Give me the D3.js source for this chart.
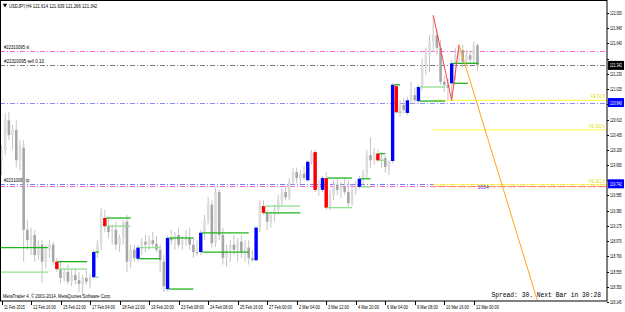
<!DOCTYPE html>
<html>
<head>
<meta charset="utf-8">
<script src="https://cdn.jsdelivr.net/npm/d3@7"></script>
<style>
  body { margin: 0; background: #fff; }
  svg { display: block; font-family: "Liberation Sans", Arial, sans-serif; }
</style>
</head>
<body>
<script>
// USDJPY H4 candles (bar 0 = 11 Feb 2015)
var open = [120.06,120.20,120.60,120.40,120.47,120.06,120.23,119.12,118.98,119.05,
  118.78,118.92,118.69,118.85,118.92,118.69,118.59,118.47,118.55,118.42,
  118.51,118.44,118.39,118.47,118.42,118.48,118.82,118.92,119.28,119.17,
  119.09,119.12,118.92,119.01,119.23,118.69,118.85,118.73,118.88,118.96,
  118.92,118.98,118.93,118.85,118.69,118.32,119.01,118.98,119.05,118.92,
  118.98,119.01,118.92,118.82,118.82,119.08,119.25,119.46,118.94,119.63,
  119.05,118.74,118.85,118.92,118.85,118.96,118.82,118.88,118.74,118.71,
  119.15,119.44,119.35,119.23,119.32,119.39,119.52,119.63,119.56,119.77,
  119.90,119.82,119.88,119.79,120.04,120.17,119.66,119.66,119.82,119.42,
  119.59,119.73,119.66,119.71,119.63,119.48,119.66,119.70,119.81,119.88,
  120.13,120.06,120.15,120.06,120.09,119.97,120.05,121.06,120.71,120.81,
  120.70,120.87,120.94,120.86,121.05,121.35,121.48,121.66,121.75,121.58,
  121.12,121.08,121.10,121.37,121.48,121.55,121.39,121.48,121.42,121.614];
var high = [120.27,120.70,120.71,120.54,120.60,120.33,120.33,119.25,119.15,119.12,
  118.98,118.98,118.92,118.98,118.96,118.74,118.69,118.60,118.65,118.58,
  118.60,118.55,118.51,118.58,118.52,118.85,118.98,119.42,119.39,119.28,
  119.19,119.23,119.05,119.25,119.32,118.92,118.92,118.92,119.01,119.05,
  119.04,119.09,119.04,118.92,118.78,119.04,119.12,119.09,119.15,119.04,
  119.12,119.15,119.01,118.98,119.12,119.32,119.56,119.52,119.69,119.66,
  119.15,118.92,118.98,119.05,119.01,119.05,118.98,118.98,118.85,119.17,
  119.52,119.52,119.39,119.36,119.46,119.59,119.69,119.71,119.82,119.96,
  119.96,119.93,119.98,120.06,120.20,120.20,119.79,119.85,119.90,119.66,
  119.79,119.82,119.77,119.82,119.79,119.73,119.79,119.85,119.93,120.20,
  120.37,120.23,120.20,120.17,120.13,120.06,121.10,121.09,120.87,120.90,
  120.92,121.12,121.04,121.08,121.44,121.58,121.75,122.02,121.82,121.69,
  121.21,121.17,121.42,121.58,121.62,121.62,121.55,121.55,121.66,121.639];
var low = [119.86,120.13,120.33,120.20,119.96,119.93,118.69,118.85,118.78,118.69,
  118.71,118.40,118.60,118.74,118.65,118.55,118.40,118.42,118.38,118.36,
  118.38,118.28,118.23,118.38,118.33,118.46,118.74,118.85,119.09,119.01,
  118.92,118.85,118.82,118.92,118.55,118.60,118.69,118.69,118.78,118.82,
  118.85,118.88,118.82,118.55,118.28,118.29,118.92,118.85,118.88,118.85,
  118.90,118.85,118.74,118.77,118.78,118.98,119.19,118.88,118.89,118.98,
  118.65,118.62,118.69,118.78,118.69,118.74,118.69,118.65,118.69,118.69,
  119.09,119.32,119.12,119.15,119.23,119.32,119.43,119.52,119.52,119.73,
  119.75,119.74,119.79,119.77,120.00,119.63,119.58,119.63,119.39,119.39,
  119.52,119.59,119.55,119.59,119.43,119.44,119.60,119.67,119.71,119.82,
  119.96,120.00,120.04,119.96,119.89,119.86,120.02,120.69,120.65,120.69,
  120.67,120.83,120.82,120.83,121.01,121.21,121.25,121.52,121.48,121.08,
  120.98,120.87,120.87,121.15,121.39,121.31,121.33,121.36,121.37,121.266];
var close = [120.20,120.60,120.40,120.47,120.06,120.27,119.12,118.98,119.05,118.78,
  118.92,118.69,118.85,118.92,118.69,118.59,118.47,118.55,118.42,118.51,
  118.44,118.39,118.47,118.42,118.48,118.82,118.92,119.36,119.17,119.09,
  119.12,118.92,119.01,119.23,118.69,118.85,118.74,118.88,118.96,118.92,
  118.98,118.93,118.85,118.71,118.36,119.01,118.98,119.05,118.92,118.98,
  119.01,118.92,118.82,118.81,119.08,119.25,119.46,118.94,119.63,119.05,
  118.74,118.85,118.92,118.85,118.96,118.82,118.88,118.74,118.71,119.15,
  119.44,119.35,119.23,119.32,119.39,119.52,119.63,119.56,119.77,119.90,
  119.82,119.88,119.82,120.04,120.16,119.66,119.67,119.82,119.42,119.59,
  119.73,119.66,119.71,119.63,119.48,119.66,119.70,119.81,119.88,120.13,
  120.06,120.17,120.06,120.09,119.97,120.04,121.08,120.71,120.81,120.74,
  120.87,120.94,120.87,121.05,121.35,121.48,121.66,121.75,121.58,121.12,
  121.08,121.04,121.37,121.48,121.55,121.39,121.48,121.42,121.62,121.342];

// bars painted by the big-candle indicator
var blueBars = [25, 37, 45, 54, 69, 83, 87, 97, 106, 110, 113, 122];
var redBars = [15, 28, 71, 85, 88, 102, 107];

// indicator levels: from bar, to bar, price, light (1) or dark (0) green
var greenLines = [
  [-0.5, 12.6, 118.88, 0], [-0.5, 12.6, 118.55, 1],
  [15.3, 23.2, 118.69, 0], [15.3, 23.2, 118.59, 1],
  [25.3, 26.4, 118.82, 0], [25.3, 26.4, 118.48, 1],
  [28.3, 35, 119.28, 0], [28.3, 35, 119.17, 1],
  [37.3, 43, 118.88, 1], [37.3, 43, 118.73, 0],
  [45.3, 52, 119.01, 0], [45.3, 52, 118.32, 0],
  [54.3, 67, 119.08, 0], [54.3, 67, 118.82, 0],
  [71.3, 81, 119.44, 1], [71.3, 81, 119.35, 0],
  [88.3, 95, 119.82, 0], [88.3, 95, 119.42, 1],
  [97.3, 100, 119.81, 0], [97.3, 100, 119.70, 1],
  [102.3, 104, 120.15, 0], [102.3, 104, 120.06, 1],
  [106.3, 108, 121.08, 0], [107.3, 108.5, 120.71, 1],
  [113.3, 120.2, 121.05, 1], [113.3, 120.2, 120.86, 0],
  [122.3, 129.2, 121.37, 0], [122.3, 126.4, 121.10, 0]
];

// order lines
var orderPrices = [121.53, 121.342, 120.840, 119.742, 119.71];
var orderLabels = ["#22310095 sl", "#22310095 sell 0.10", "", "#22310095 tp", ""];
var orderColors = ["#ff66cc", "#7a7a7a", "#8c8cff", "#7a7aff", "#ff66cc"];
var boxPrices = ["121.342", "120.840", "119.742"];

// fibo expansion
var feLabels = ["FE 61.8", "FE 100.0", "FE 161.8"];
var fePrices = [120.87, 120.47, 119.73];
var zigBars = [117, 122, 124];
var zigPrices = [122.02, 120.87, 121.62];
var projBars = [124, 145.2];
var projPrices = [121.62, 118.17];

var timeLabels = ["11 Feb 2015", "12 Feb 16:00", "15 Feb 22:00", "17 Feb 04:00", "18 Feb 12:00",
  "19 Feb 20:00", "23 Feb 08:00", "24 Feb 08:00", "25 Feb 16:00", "27 Feb 00:00", "2 Mar 04:00",
  "3 Mar 12:00", "4 Mar 20:00", "6 Mar 04:00", "9 Mar 08:00", "10 Mar 16:00", "12 Mar 00:00"];
var priceTicks = ["122.050", "121.845", "121.640", "121.435", "121.230", "121.025", "120.820",
  "120.610", "120.405", "120.200", "119.995", "119.790", "119.585", "119.380", "119.175",
  "118.970", "118.760", "118.555", "118.350", "118.145"];

var svgWidth = 625, svgHeight = 312;
var plotRight = 607, plotBottom = 301;

var svg = d3.select("body").append("svg")
  .attr("width", svgWidth)
  .attr("height", svgHeight);

var x = d3.scaleLinear().domain([0, 129]).range([1.5, 477.5]);
var y = d3.scaleLinear().domain([118.145, 122.05]).range([302, 13]);

// small text squeezed to the width seen in the screenshot
function tinyText(sel, size, perChar) {
  sel.attr("font-size", size)
    .attr("textLength", function() { return this.textContent.length * perChar; })
    .attr("lengthAdjust", "spacingAndGlyphs");
}

// price label squeezed with a transform so it stays inside the 18px axis strip
function axisLabel(px, py, txt, color) {
  svg.append("text")
    .attr("transform", "translate(" + px + "," + py + ") scale(0.72,1)")
    .attr("font-size", 4.6)
    .attr("fill", color)
    .text(txt);
}

svg.append("clipPath").attr("id", "plot")
  .append("rect").attr("x", 0).attr("y", 0).attr("width", plotRight).attr("height", plotBottom);

var chart = svg.append("g").attr("clip-path", "url(#plot)");

// order lines (dash dot)
orderPrices.forEach(function(p, k) {
  chart.append("line")
    .attr("x1", 0).attr("x2", plotRight)
    .attr("y1", Math.round(y(p)) + 0.5).attr("y2", Math.round(y(p)) + 0.5)
    .attr("stroke", orderColors[k])
    .attr("stroke-dasharray", "5,2,1,2");
  if (orderLabels[k]) {
    chart.append("text")
      .attr("x", 4).attr("y", y(p) - 2)
      .attr("fill", "#000")
      .text(orderLabels[k])
      .call(tinyText, 4.6, 2.1);
  }
});

// fibo levels
fePrices.forEach(function(p, k) {
  chart.append("line")
    .attr("x1", x(zigBars[0])).attr("x2", plotRight)
    .attr("y1", y(p)).attr("y2", y(p))
    .attr("stroke", "#ffff40").attr("stroke-width", 1);
  chart.append("text")
    .attr("x", plotRight - 2).attr("y", y(p) - 2)
    .attr("text-anchor", "end")
    .attr("fill", "#e8e000")
    .text(feLabels[k])
    .call(tinyText, 4.6, 2.0);
});
chart.append("line")
  .attr("x1", x(zigBars[0])).attr("x2", plotRight)
  .attr("y1", y(orderPrices[4]) + 0.5).attr("y2", y(orderPrices[4]) + 0.5)
  .attr("stroke", "#ff8c1a").attr("stroke-dasharray", "3,2");

// candles
var bars = d3.range(open.length).map(function(i) {
  return { i: i, o: open[i], h: high[i], l: low[i], c: close[i] };
});

chart.selectAll(".wick").data(bars).enter().append("line")
  .attr("x1", function(d) { return x(d.i); })
  .attr("x2", function(d) { return x(d.i); })
  .attr("y1", function(d) { return y(d.h); })
  .attr("y2", function(d) { return y(d.l); })
  .attr("stroke", "#c4c4c4").attr("stroke-width", 1);

chart.selectAll(".body").data(bars).enter().append("rect")
  .attr("x", function(d) { return x(d.i) - 1.3; })
  .attr("width", 2.6)
  .attr("y", function(d) { return y(Math.max(d.o, d.c)); })
  .attr("height", function(d) { return Math.max(1, Math.abs(y(d.o) - y(d.c))); })
  .attr("fill", function(d) { return d.c >= d.o ? "#dcdcdc" : "#a6a6a6"; });

// painted candles
chart.selectAll(".blue").data(blueBars).enter().append("rect")
  .attr("x", function(i) { return x(i) - 1.7; })
  .attr("width", 3.4)
  .attr("y", function(i) { return y(Math.max(open[i], close[i])); })
  .attr("height", function(i) { return Math.abs(y(open[i]) - y(close[i])); })
  .attr("fill", "#0000ff");
chart.selectAll(".red").data(redBars).enter().append("rect")
  .attr("x", function(i) { return x(i) - 1.7; })
  .attr("width", 3.4)
  .attr("y", function(i) { return y(Math.max(open[i], close[i])); })
  .attr("height", function(i) { return Math.abs(y(open[i]) - y(close[i])); })
  .attr("fill", "#ff0000");

// green levels
chart.selectAll(".lvl").data(greenLines).enter().append("line")
  .attr("x1", function(d) { return x(d[0]); })
  .attr("x2", function(d) { return x(d[1]); })
  .attr("y1", function(d) { return y(d[2]); })
  .attr("y2", function(d) { return y(d[2]); })
  .attr("stroke", function(d) { return d[3] ? "#8fe08f" : "#1fb41f"; })
  .attr("stroke-width", 1.3);

// zigzag and projection
var line = d3.line()
  .x(function(d) { return x(d[0]); })
  .y(function(d) { return y(d[1]); });
chart.append("path")
  .attr("d", line(d3.zip(zigBars, zigPrices)))
  .attr("fill", "none").attr("stroke", "#ff4040").attr("stroke-width", 1);
chart.append("path")
  .attr("d", line(d3.zip(projBars, projPrices)))
  .attr("fill", "none").attr("stroke", "#ffa520").attr("stroke-width", 1);

chart.append("text")
  .attr("x", x(129)).attr("y", y(119.71) + 3)
  .attr("fill", "#3c3ccc")
  .text("1034")
  .call(tinyText, 5, 2.8);

// frame
svg.append("rect")
  .attr("x", 0.5).attr("y", 0.5)
  .attr("width", plotRight - 0.5).attr("height", plotBottom - 0.5)
  .attr("fill", "none").attr("stroke", "#000");

// price axis
priceTicks.forEach(function(t) {
  var py = y(+t);
  svg.append("line")
    .attr("x1", plotRight).attr("x2", plotRight + 2)
    .attr("y1", Math.round(py) + 0.5).attr("y2", Math.round(py) + 0.5)
    .attr("stroke", "#000");
  var hidden = boxPrices.some(function(b) { return Math.abs(y(+b) - py) < 7; });
  if (!hidden) axisLabel(plotRight + 3, py + 2, t, "#000");
});

var boxColors = ["#000", "#0000ff", "#0000ff"];
boxPrices.forEach(function(b, k) {
  svg.append("rect")
    .attr("x", plotRight + 1).attr("y", y(+b) - 4.5)
    .attr("width", 16).attr("height", 9)
    .attr("fill", boxColors[k]);
  axisLabel(plotRight + 3, y(+b) + 2, b, "#fff");
});

// time axis
timeLabels.forEach(function(t, k) {
  var tx = Math.round(x(k * 8)) + 0.5;
  svg.append("line")
    .attr("x1", tx).attr("x2", tx)
    .attr("y1", plotBottom).attr("y2", plotBottom + 4)
    .attr("stroke", "#000");
  svg.append("text")
    .attr("x", tx + 1.5).attr("y", plotBottom + 8)
    .attr("fill", "#000")
    .text(t)
    .call(tinyText, 4.8, 1.9);
});

// header and footer texts
svg.append("path")
  .attr("d", d3.symbol().type(d3.symbolTriangle).size(8)())
  .attr("transform", "translate(5,5) rotate(180)")
  .attr("fill", "#000");
svg.append("text")
  .attr("x", 9).attr("y", 7.5)
  .text("USDJPY,H4  121.614 121.639 121.266 121.342")
  .call(tinyText, 5, 2.1);

svg.append("text")
  .attr("x", 3).attr("y", 298)
  .text("MetaTrader 4, \u00a9 2001-2014, MetaQuotes Software Corp.")
  .call(tinyText, 4.8, 2.08);

svg.append("text")
  .attr("x", 601).attr("y", 297)
  .attr("text-anchor", "end")
  .attr("font-family", "Liberation Mono, monospace")
  .attr("font-size", 6.3)
  .attr("xml:space", "preserve")
  .text("Spread: 30. Next Bar in 30:28");
</script>
</body>
</html>
